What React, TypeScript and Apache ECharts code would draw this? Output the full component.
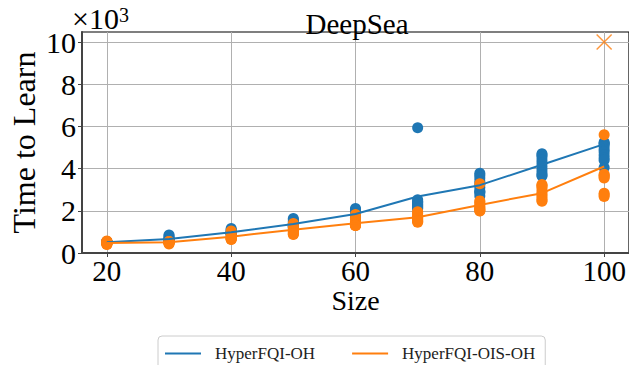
import React, { useEffect, useRef } from 'react';
import * as echarts from 'echarts';

const sizes = [20, 30, 40, 50, 60, 70, 80, 90, 100];
const ohMean = [508, 665, 983, 1378, 1852, 2675, 3215, 4180, 5160];
const oisMean = [475, 510, 775, 1107, 1410, 1695, 2280, 2835, 4100];
const ohRuns = [
  [480, 520, 500, 550, 490, 510, 530, 470, 500, 520],
  [850, 800, 720, 680, 650, 600, 620, 580, 560, 600],
  [1160, 1100, 1050, 1000, 980, 950, 900, 920, 860, 900],
  [1640, 1580, 1500, 1420, 1380, 1300, 1250, 1200, 1250, 1260],
  [2110, 2050, 1980, 1900, 1850, 1800, 1750, 1700, 1720, 1660],
  [5940, 2520, 2450, 2400, 2350, 2300, 2250, 2200, 2150, 2100],
  [3780, 3680, 3550, 3400, 3250, 3100, 2950, 2900, 2850, 2700],
  [4700, 4650, 4550, 4400, 4250, 4100, 3950, 3800, 3700, 3650],
  [5250, 5200, 5150, 5050, 4900, 4800, 4650, 4500, 4400, 4050],
];
const oisRuns = [
  [400, 450, 500, 550, 570, 480, 420, 460, 510, 530],
  [540, 520, 500, 480, 430, 460, 520, 530, 550, 500],
  [1040, 950, 850, 780, 720, 680, 650, 640, 700, 740],
  [1400, 1300, 1200, 1150, 1100, 1050, 1000, 950, 900, 880],
  [1830, 1650, 1500, 1420, 1380, 1340, 1310, 1305, 1300, 1320],
  [1960, 1900, 1800, 1720, 1680, 1620, 1580, 1540, 1500, 1460],
  [3280, 2470, 2400, 2300, 2200, 2150, 2100, 2050, 2000, 1995],
  [3250, 3200, 3150, 3050, 2900, 2800, 2700, 2600, 2500, 2450],
  [5600, 3730, 3680, 3620, 3560, 2830, 2760, 2680],
];
const failSizes = [100];
const failValues = [10000];
const xTicks = [20, 40, 60, 80, 100];
const yTicks = [0, 2000, 4000, 6000, 8000, 10000];
const legendNames = ['HyperFQI-OH', 'HyperFQI-OIS-OH'];

const FONT = 'Liberation Serif';
const BLUE = '#1f77b4';
const ORANGE = '#ff7f0e';

function flatten(runs: number[][]) {
  const out: number[][] = [];
  runs.forEach((r, i) => r.forEach((v) => out.push([sizes[i], v])));
  return out;
}

export default function App() {
  const ref = useRef<HTMLDivElement>(null);
  useEffect(() => {
    if (!ref.current) return;
    const chart = echarts.init(ref.current, undefined, { renderer: 'svg' });
    chart.setOption({
      animation: false,
      backgroundColor: '#fff',
      textStyle: { fontFamily: FONT },
      title: {
        text: 'DeepSea',
        left: 352,
        textAlign: 'center',
        top: 4,
        textStyle: { fontFamily: FONT, fontSize: 29, fontWeight: 'normal', color: '#000' },
      },
      graphic: [
        {
          type: 'text',
          left: 72,
          top: 3,
          style: {
            text: '×10{sup|3}',
            fontFamily: FONT,
            fontSize: 30,
            lineHeight: 26,
            fill: '#000',
            rich: {
              sup: { fontFamily: FONT, fontSize: 20, lineHeight: 26, verticalAlign: 'top', padding: [0, 0, 8, 0], fill: '#000' },
            },
          },
        },
      ],
      legend: {
        data: legendNames.map((n) => ({ name: n, icon: 'rect' })),
        left: 158,
        top: 336,
        padding: [9, 10, 9, 7],
        itemGap: 37,
        itemWidth: 36,
        itemHeight: 2,
        borderColor: '#ccc',
        borderWidth: 1,
        borderRadius: 4,
        textStyle: { fontFamily: FONT, fontSize: 17, color: '#222', padding: [0, 0, 0, 9] },
      },
      grid: {
        left: 69,
        top: 32,
        width: 566,
        height: 221,
        show: true,
        borderColor: '#000',
        borderWidth: 1.2,
        backgroundColor: 'transparent',
      },
      xAxis: {
        type: 'value',
        min: 16,
        max: 104,
        name: 'Size',
        nameLocation: 'middle',
        nameGap: 35,
        nameMoveOverlap: false,
        nameTextStyle: { fontFamily: FONT, fontSize: 28, lineHeight: 24, color: '#000' },
        axisLine: { show: true, lineStyle: { color: '#444', width: 2 } },
        axisTick: { show: true, length: 4, lineStyle: { color: '#444' }, customValues: xTicks },
        axisLabel: {
          customValues: xTicks,
          fontFamily: FONT,
          fontSize: 29,
          lineHeight: 26,
          color: '#000',
          margin: 5,
        },
        splitLine: { show: true, lineStyle: { color: '#b0b0b0', width: 1 } },
      },
      yAxis: {
        type: 'value',
        min: 0,
        max: 10475,
        name: 'Time to Learn',
        nameLocation: 'middle',
        nameGap: 42,
        nameMoveOverlap: false,
        nameRotate: 90,
        nameTextStyle: { fontFamily: FONT, fontSize: 32, color: '#000' },
        axisLine: { show: true, lineStyle: { color: '#444', width: 2 } },
        axisTick: { show: true, length: 4, lineStyle: { color: '#444' }, customValues: yTicks },
        axisLabel: {
          customValues: yTicks,
          fontFamily: FONT,
          fontSize: 30,
          lineHeight: 26,
          color: '#000',
          margin: 6,
          formatter: (v: number) => String(Math.round(v / 1000)),
        },
        splitLine: { show: true, lineStyle: { color: '#b0b0b0', width: 1 } },
      },
      series: [
        {
          name: 'HyperFQI-OH runs',
          type: 'scatter',
          data: flatten(ohRuns),
          symbolSize: 11,
          itemStyle: { color: BLUE, opacity: 1 },
          z: 2,
        },
        {
          name: 'HyperFQI-OIS-OH runs',
          type: 'scatter',
          data: flatten(oisRuns),
          symbolSize: 11,
          itemStyle: { color: ORANGE, opacity: 1 },
          z: 3,
        },
        {
          name: 'HyperFQI-OIS-OH failed',
          type: 'scatter',
          data: failSizes.map((s, i) => [s, failValues[i]]),
          symbol: 'path://M0,0L10,10M10,0L0,10',
          symbolSize: 15,
          itemStyle: { color: 'none', borderColor: ORANGE, borderWidth: 1.5 },
          z: 3,
        },
        {
          name: legendNames[0],
          type: 'line',
          data: sizes.map((s, i) => [s, ohMean[i]]),
          symbol: 'none',
          lineStyle: { color: BLUE, width: 2 },
          itemStyle: { color: BLUE },
          z: 4,
        },
        {
          name: legendNames[1],
          type: 'line',
          data: sizes.map((s, i) => [s, oisMean[i]]),
          symbol: 'none',
          lineStyle: { color: ORANGE, width: 2 },
          itemStyle: { color: ORANGE },
          z: 5,
        },
      ],
    });
    return () => chart.dispose();
  }, []);
  return <div ref={ref} style={{ width: 629, height: 365, position: 'absolute', left: 0, top: 0 }} />;
}
